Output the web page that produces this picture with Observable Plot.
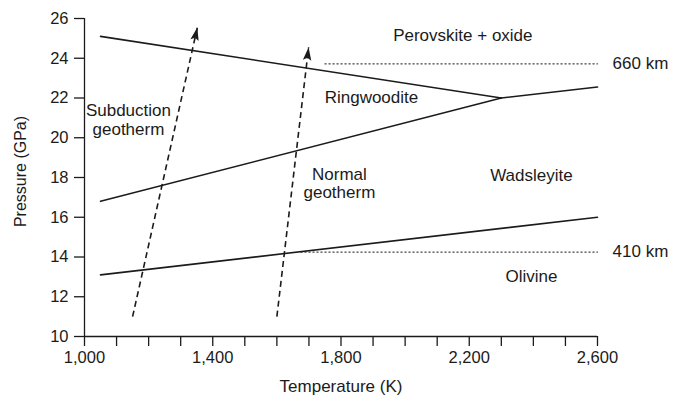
<!DOCTYPE html>
<html><head><meta charset="utf-8">
<script src="https://cdn.jsdelivr.net/npm/d3@7"></script>
<script src="https://cdn.jsdelivr.net/npm/@observablehq/plot@0.6"></script>
<style>body{margin:0;background:#fff}</style>
</head><body><div id="chart"></div>
<script>
// Axis ticks
const xTicks = d3.range(1000, 2601, 100);
const xTickLabels = [1000, 1400, 1800, 2200, 2600];
const yTicks = [10, 12, 14, 16, 18, 20, 22, 24, 26];

// Phase boundaries, [temperature K, pressure GPa]
const perovskiteRingwoodite = [[1050, 25.1], [2300, 22.0]];
const ringwooditeWadsleyite = [[1050, 16.8], [2300, 22.0]];
const perovskiteWadsleyite = [[2300, 22.0], [2600, 22.55]];
const wadsleyiteOlivine = [[1050, 13.1], [2600, 16.0]];

// Depth markers (dotted)
const depth660 = [[1750, 23.72], [2600, 23.72]];
const depth410 = [[1675, 14.25], [2600, 14.25]];

// Geotherms (dashed arrows)
const geotherms = [
  {name: "Subduction", T1: 1150, P1: 11.0, T2: 1352, P2: 25.55},
  {name: "Normal", T1: 1600, P1: 11.0, T2: 1699, P2: 24.55}
];

// Region labels (centred)
const regionLabels = [
  {text: "Perovskite + oxide", T: 2180, P: 25.15},
  {text: "Ringwoodite", T: 1895, P: 22.03},
  {text: "Subduction\ngeotherm", T: 1137, P: 20.92},
  {text: "Normal\ngeotherm", T: 1795, P: 17.72},
  {text: "Wadsleyite", T: 2394, P: 18.1},
  {text: "Olivine", T: 2394, P: 13.02}
];
// Depth labels (left-aligned)
const depthLabels = [
  {text: "660 km", T: 2647, P: 23.72},
  {text: "410 km", T: 2647, P: 14.25}
];

const W = 681, H = 405;
const margin = {left: 84, right: 84, top: 18, bottom: 69};
const xDomain = [1000, 2600], yDomain = [10, 26];
const sx = Plot.scale({x: {domain: xDomain, range: [margin.left, W - margin.right]}});
const sy = Plot.scale({y: {domain: yDomain, range: [H - margin.bottom, margin.top]}});
const angle = d => {
  const dx = sx.apply(d.T2) - sx.apply(d.T1);
  const dy = sy.apply(d.P2) - sy.apply(d.P1);
  return Math.atan2(dx, -dy) * 180 / Math.PI;
};
const arrowHead = {
  draw(ctx) {
    ctx.moveTo(0, 0);
    ctx.lineTo(4.2, 13);
    ctx.lineTo(0, 10.5);
    ctx.lineTo(-4.2, 13);
    ctx.closePath();
  }
};

const ink = "#1b1b1b";
const lineOpts = {x: d => d[0], y: d => d[1], stroke: ink, strokeWidth: 1.6};
const dotOpts = {x: d => d[0], y: d => d[1], stroke: "#444", strokeWidth: 1.3, strokeDasharray: "1.2,2.8"};
const fmt = d3.format(",");
const labelFont = 17;

const chart = Plot.plot({
  width: W, height: H,
  marginLeft: margin.left, marginRight: margin.right, marginTop: margin.top, marginBottom: margin.bottom,
  x: {domain: xDomain},
  y: {domain: yDomain},
  style: {fontFamily: "'Liberation Sans', Arial, sans-serif", fontSize: "16.5px", color: ink, background: "#fff"},
  marks: [
    Plot.axisX({ticks: xTicks, tickSize: 10, tickPadding: 5, strokeWidth: 1.3, label: null,
      tickFormat: d => xTickLabels.includes(d) ? fmt(d) : ""}),
    Plot.axisY({ticks: yTicks, tickSize: 10, tickPadding: 6, strokeWidth: 1.3, label: null}),
    Plot.ruleX([xDomain[0]], {stroke: ink, strokeWidth: 1.3}),
    Plot.ruleY([yDomain[0]], {stroke: ink, strokeWidth: 1.3}),
    Plot.line(depth660, dotOpts),
    Plot.line(depth410, dotOpts),
    Plot.line(perovskiteRingwoodite, lineOpts),
    Plot.line(ringwooditeWadsleyite, lineOpts),
    Plot.line(perovskiteWadsleyite, lineOpts),
    Plot.line(wadsleyiteOlivine, lineOpts),
    Plot.link(geotherms, {x1: "T1", y1: "P1", x2: "T2", y2: "P2", stroke: ink, strokeWidth: 1.6, strokeDasharray: "6,4"}),
    Plot.dot(geotherms, {x: "T2", y: "P2", symbol: arrowHead, rotate: angle, fill: ink, stroke: "none", r: 5}),
    Plot.text(regionLabels, {x: "T", y: "P", text: "text", textAnchor: "middle", fontSize: labelFont, lineHeight: 1.08, fill: ink}),
    Plot.text(depthLabels, {x: "T", y: "P", text: "text", textAnchor: "start", fontSize: labelFont, fill: ink}),
    Plot.text(["Temperature (K)"], {frameAnchor: "bottom", text: d => d, textAnchor: "middle", dy: 55, fontSize: labelFont, fill: ink}),
    Plot.text(["Pressure (GPa)"], {frameAnchor: "left", text: d => d, textAnchor: "middle", lineAnchor: "middle", rotate: -90, dx: -64, dy: -6, fontSize: 16, fill: ink})
  ]
});
document.getElementById("chart").appendChild(chart);
</script>
</body></html>
